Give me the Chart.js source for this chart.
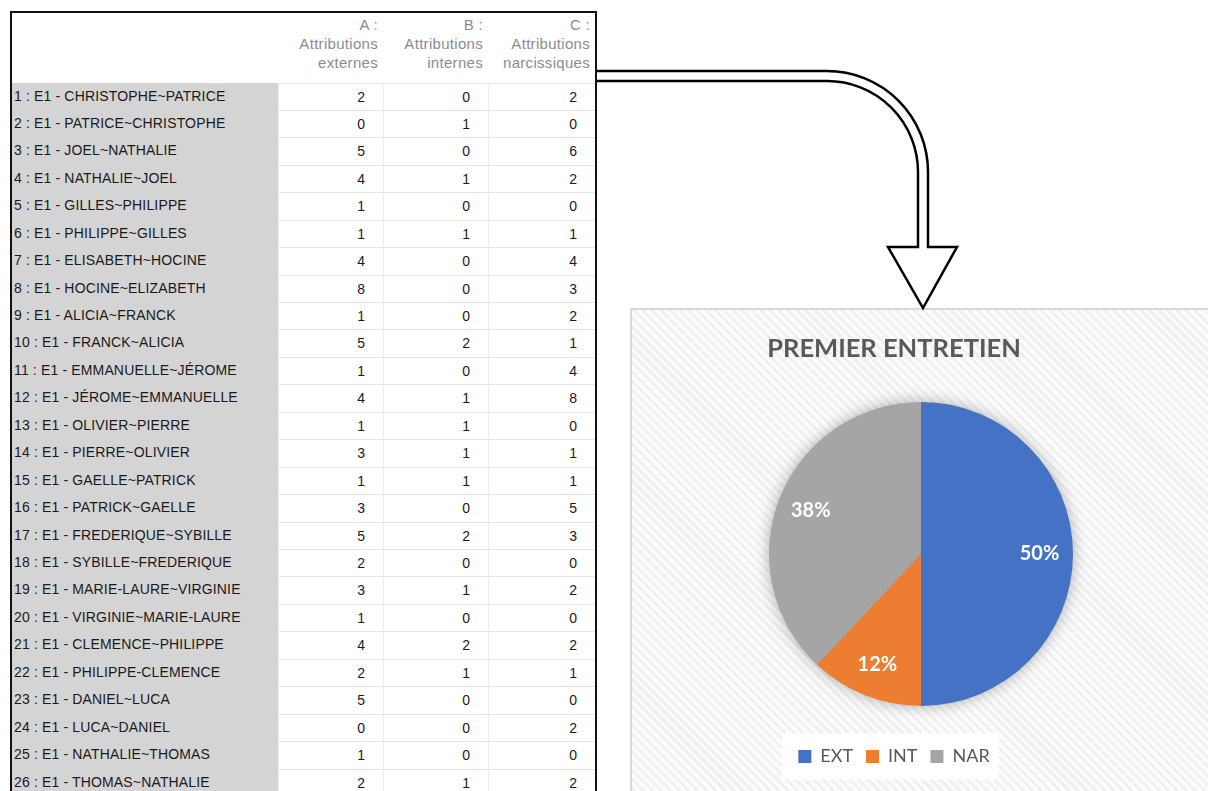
<!DOCTYPE html>
<html>
<head>
<meta charset="utf-8">
<script src="https://cdn.jsdelivr.net/npm/chart.js@4.4.0/dist/chart.umd.min.js"></script>
<style>
html, body { margin: 0; padding: 0; background: #fff; width: 1208px; height: 791px; overflow: hidden; position: relative; font-family: "Liberation Sans", Arial, sans-serif; }
#table { position: absolute; left: 10px; top: 11px; width: 587px; height: 830px; border: 2px solid #111; box-sizing: border-box; background: #fff; }
.lbl-col { position: absolute; left: 0; top: 69.5px; width: 266px; bottom: 0; background: #d4d4d4; }
.hdr { position: absolute; top: 1.5px; text-align: right; color: #8c8c8c; font-size: 15px; line-height: 19px; letter-spacing: .3px; padding-right: 5px; box-sizing: border-box; }
.row { position: absolute; left: 0; width: 583px; height: 27.44px; }
.cell { position: absolute; top: 0; height: 27.44px; line-height: 27px; font-size: 14px; color: #1a1a1a; box-sizing: border-box; white-space: nowrap; }
.name { left: 2px; letter-spacing: .15px; }
.num { text-align: right; padding-right: 18px; border-top: 1px solid #e4e4e4; border-left: 1px solid #ececec; }
#panel { position: absolute; left: 630px; top: 308px; width: 600px; height: 500px; box-sizing: border-box;
  border-top: 2px solid #d9d9d9; border-left: 2px solid #d9d9d9;
  background: repeating-linear-gradient(45deg, #efefef 0px, #efefef 2.5px, #fbfbfb 2.5px, #fbfbfb 6.4px); }
#chartBox { position: absolute; left: 630px; top: 308px; width: 578px; height: 483px; }
#arrow { position: absolute; left: 0; top: 0; }
</style>
</head>
<body>
<div id="table"><div class="lbl-col"></div></div>
<div id="panel"></div>
<svg id="arrow" width="1208" height="791">
  <path d="M 597 71 L 827 71 A 101 101 0 0 1 928 172 L 928 247 L 957 247 L 923 308 L 888 247 L 918 247 L 918 172 A 91 91 0 0 0 827 81 L 597 81"
        fill="#fff" stroke="#000" stroke-width="2.5" stroke-linejoin="miter"/>
</svg>
<div id="chartBox"><canvas id="pieChart"></canvas></div>

<script>
// Table data
const headerLines = [
    ['A :', 'Attributions', 'externes'],
    ['B :', 'Attributions', 'internes'],
    ['C :', 'Attributions', 'narcissiques']
];
const rowLabels = [
    '1 : E1 - CHRISTOPHE~PATRICE', '2 : E1 - PATRICE~CHRISTOPHE', '3 : E1 - JOEL~NATHALIE',
    '4 : E1 - NATHALIE~JOEL', '5 : E1 - GILLES~PHILIPPE', '6 : E1 - PHILIPPE~GILLES',
    '7 : E1 - ELISABETH~HOCINE', '8 : E1 - HOCINE~ELIZABETH', '9 : E1 - ALICIA~FRANCK',
    '10 : E1 - FRANCK~ALICIA', '11 : E1 - EMMANUELLE~JÉROME', '12 : E1 - JÉROME~EMMANUELLE',
    '13 : E1 - OLIVIER~PIERRE', '14 : E1 - PIERRE~OLIVIER', '15 : E1 - GAELLE~PATRICK',
    '16 : E1 - PATRICK~GAELLE', '17 : E1 - FREDERIQUE~SYBILLE', '18 : E1 - SYBILLE~FREDERIQUE',
    '19 : E1 - MARIE-LAURE~VIRGINIE', '20 : E1 - VIRGINIE~MARIE-LAURE', '21 : E1 - CLEMENCE~PHILIPPE',
    '22 : E1 - PHILIPPE-CLEMENCE', '23 : E1 - DANIEL~LUCA', '24 : E1 - LUCA~DANIEL',
    '25 : E1 - NATHALIE~THOMAS', '26 : E1 - THOMAS~NATHALIE'
];
const extCounts = [2, 0, 5, 4, 1, 1, 4, 8, 1, 5, 1, 4, 1, 3, 1, 3, 5, 2, 3, 1, 4, 2, 5, 0, 1, 2];
const intCounts = [0, 1, 0, 1, 0, 1, 0, 0, 0, 2, 0, 1, 1, 1, 1, 0, 2, 0, 1, 0, 2, 1, 0, 0, 0, 1];
const narCounts = [2, 0, 6, 2, 0, 1, 4, 3, 2, 1, 4, 8, 0, 1, 1, 5, 3, 0, 2, 0, 2, 1, 0, 2, 0, 2];

// Pie data
const pieTitle = 'PREMIER ENTRETIEN';
const pieLabels = ['EXT', 'INT', 'NAR'];
const pieValues = [50, 12, 38];
const pieColors = ['#4472C4', '#ED7D31', '#A5A5A5'];

// Build the table
function buildTable() {
    const table = document.getElementById('table');
    const cols = [{ left: 266, width: 105 }, { left: 371, width: 105 }, { left: 476, width: 107 }];
    const numCols = [extCounts, intCounts, narCounts];

    cols.forEach((col, c) => {
        const h = document.createElement('div');
        h.className = 'hdr';
        h.style.left = col.left + 'px';
        h.style.width = col.width + 'px';
        h.innerHTML = headerLines[c].join('<br>');
        table.appendChild(h);
    });

    rowLabels.forEach((label, i) => {
        const row = document.createElement('div');
        row.className = 'row';
        row.style.top = (69.5 + i * 27.44) + 'px';
        let html = `<div class="cell name">${label}</div>`;
        cols.forEach((col, c) => {
            html += `<div class="cell num" style="left:${col.left}px;width:${col.width}px">${numCols[c][i]}</div>`;
        });
        row.innerHTML = html;
        table.appendChild(row);
    });
}

// Move the pie to the right of the title/legend axis
const pieShift = {
    id: 'pieShift',
    afterLayout(chart) {
        chart.chartArea.left += 27;
        chart.chartArea.right += 27;
    }
};

// Soft shadow under the pie
const pieShadow = {
    id: 'pieShadow',
    beforeDatasetsDraw(chart) {
        const arc = chart.getDatasetMeta(0).data[0];
        if (!arc) return;
        const ctx = chart.ctx;
        ctx.save();
        ctx.shadowColor = 'rgba(0, 0, 0, 0.35)';
        ctx.shadowBlur = 16;
        ctx.beginPath();
        ctx.arc(arc.x, arc.y, arc.outerRadius - 1, 0, Math.PI * 2);
        ctx.fillStyle = '#a5a5a5';
        ctx.fill();
        ctx.restore();
    }
};

// White box behind the legend
const legendBackground = {
    id: 'legendBackground',
    beforeDraw(chart) {
        const boxes = chart.legend && chart.legend.legendHitBoxes;
        if (!boxes || !boxes.length) return;
        const minX = Math.min(...boxes.map(b => b.left));
        const maxX = Math.max(...boxes.map(b => b.left + b.width));
        const midY = boxes[0].top + boxes[0].height / 2;
        const ctx = chart.ctx;
        ctx.save();
        ctx.fillStyle = 'rgba(255, 255, 255, 0.9)';
        ctx.fillRect(minX - 16, midY - 23, maxX - minX + 25, 46);
        ctx.restore();
    }
};

// Percentage labels inside slices
const sliceLabels = {
    id: 'sliceLabels',
    afterDatasetsDraw(chart) {
        const meta = chart.getDatasetMeta(0);
        const values = chart.data.datasets[0].data;
        const total = values.reduce((a, b) => a + b, 0);
        const ctx = chart.ctx;
        ctx.save();
        ctx.fillStyle = '#ffffff';
        ctx.font = 'bold 20px Lato';
        ctx.textAlign = 'center';
        ctx.textBaseline = 'middle';
        meta.data.forEach((arc, i) => {
            const mid = (arc.startAngle + arc.endAngle) / 2;
            const r = arc.outerRadius * 0.78;
            const x = arc.x + Math.cos(mid) * r;
            const y = arc.y + Math.sin(mid) * r;
            ctx.fillText(Math.round(values[i] / total * 100) + '%', x, y);
        });
        ctx.restore();
    }
};

function initializePieChart() {
    const ctx = document.getElementById('pieChart');
    if (!ctx) return;

    new Chart(ctx, {
        type: 'pie',
        data: {
            labels: pieLabels,
            datasets: [{
                data: pieValues,
                backgroundColor: pieColors,
                borderWidth: 0,
                radius: 152
            }]
        },
        options: {
            responsive: true,
            maintainAspectRatio: false,
            animation: false,
            layout: {
                padding: { top: 0, right: 50, bottom: 15.5, left: 0 }
            },
            plugins: {
                title: {
                    display: true,
                    text: pieTitle,
                    color: '#595959',
                    font: { family: 'Lato', size: 25.5, weight: 'bold', lineHeight: 1.2 },
                    padding: { top: 25.5, bottom: 9.3 }
                },
                legend: {
                    position: 'bottom',
                    labels: {
                        color: '#595959',
                        font: { family: 'Lato', size: 18 },
                        boxWidth: 13,
                        boxHeight: 13,
                        padding: 13
                    }
                },
                tooltip: { enabled: false }
            }
        },
        plugins: [pieShift, pieShadow, legendBackground, sliceLabels]
    });
}

buildTable();
initializePieChart();
</script>
</body>
</html>
